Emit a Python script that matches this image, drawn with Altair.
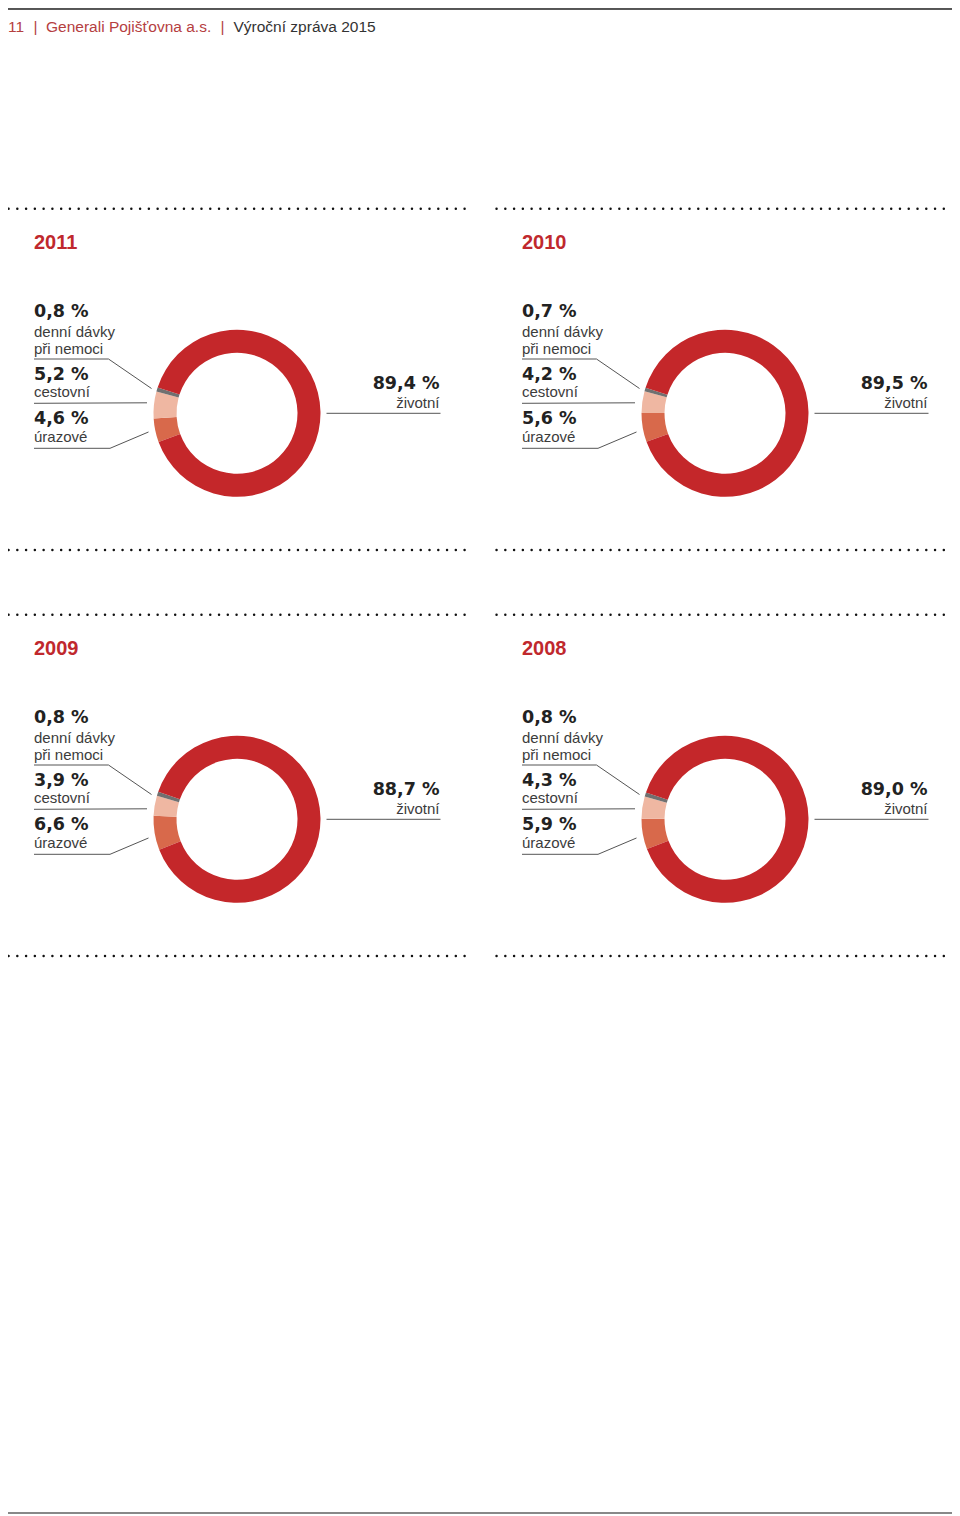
import math
import altair as alt
import pandas as pd

# ---------------- data ----------------
years = ["2011", "2010", "2009", "2008"]
categories = ["úrazové", "cestovní", "denní dávky\npři nemoci", "životní"]
urazove = [4.6, 5.6, 6.6, 5.9]
cestovni = [5.2, 4.2, 3.9, 4.3]
denni = [0.8, 0.7, 0.8, 0.8]
zivotni = [89.4, 89.5, 88.7, 89.0]
header_parts = ["11", "|", "Generali Pojišťovna a.s.", "|", "Výroční zpráva 2015"]

# ---------------- layout / style ----------------
W, H = 944, 1507
M = 8                      # page margin (page coords -> chart coords)
COL_DX = [0, 488]
ROW_DY = [0, 406]
CENTER_DEG = 269.0         # angle at which the small slices are centred
CX, CY = 237, 413.3        # donut centre of first panel (page coords)
R_OUT, R_IN = 83.5, 60.5
COLORS = ["#d8694b", "#efb7a2", "#707070", "#c4272a"]
RED_TXT = "#b5403f"
DARK = "#222222"
GREY_TXT = "#3c3c3c"
LINE = "#555555"

series = [urazove, cestovni, denni, zivotni]


def fmt(v):
    return f"{v:.1f}".replace(".", ",") + " %"


# label anchor positions per category (page coords, first panel)
PCT_Y = {0: 424.0, 1: 379.5, 2: 316.5}
NAME_Y = {0: 442.0, 1: 396.5, 2: 336.5}
LEFT_X = 34
RIGHT_X = 439.5
RIGHT_PCT_Y = 388.5
RIGHT_NAME_Y = 407.5
YEAR_Y = 248.5

LEADERS = [
    (34, 359, 108.5, 359), (108.5, 359, 151.5, 388.5),
    (34, 403.3, 147, 402.8),
    (34, 448.3, 110, 448.3), (110, 448.3, 148.5, 432),
    (326.5, 413.3, 440.5, 413.3),
]
DOT_Y = [208.7, 550.0]
DOT_X = (8.5, 467.0)

arc_rows, pct_rows, name_rows, year_rows, seg_rows, dot_rows = [], [], [], [], [], []
for i, yr in enumerate(years):
    ox = COL_DX[i % 2] - M
    oy = ROW_DY[i // 2] - M
    small = urazove[i] + cestovni[i] + denni[i]
    cum = CENTER_DEG / 3.6 - small / 2
    for k, cat in enumerate(categories):
        v = series[k][i]
        arc_rows.append(dict(year=yr, cat=cat, t0=cum, t1=cum + v,
                             cx=CX + ox, cy=CY + oy))
        cum += v
        if k < 3:
            pct_rows.append(dict(side="L", text=fmt(v), x=LEFT_X + ox, y=PCT_Y[k] + oy))
            name_rows.append(dict(side="L", text=cat, x=LEFT_X + ox, y=NAME_Y[k] + oy))
        else:
            pct_rows.append(dict(side="R", text=fmt(v), x=RIGHT_X + ox, y=RIGHT_PCT_Y + oy))
            name_rows.append(dict(side="R", text=cat, x=RIGHT_X + ox, y=RIGHT_NAME_Y + oy))
    year_rows.append(dict(text=yr, x=LEFT_X + ox, y=YEAR_Y + oy))
    for (x1, y1, x2, y2) in LEADERS:
        seg_rows.append(dict(x=x1 + ox, y=y1 + oy, x2=x2 + ox, y2=y2 + oy))
    for dy in DOT_Y:
        dot_rows.append(dict(x=DOT_X[0] + ox, x2=min(DOT_X[1] + ox, W), y=dy + oy))

arcs_df = pd.DataFrame(arc_rows)
pct_df = pd.DataFrame(pct_rows)
name_df = pd.DataFrame(name_rows)
year_df = pd.DataFrame(year_rows)
seg_df = pd.DataFrame(seg_rows)
dot_df = pd.DataFrame(dot_rows)

HEADER_X = [7, 33.5, 46, 220.5, 233.5]
header_df = pd.DataFrame(dict(text=header_parts,
                              x=[max(v - M, 0) for v in HEADER_X],
                              y=[32.3 - M] * len(header_parts),
                              red=[True, True, True, True, False]))

px = lambda f: alt.X(f"{f}:Q", scale=None, axis=None)
py = lambda f: alt.Y(f"{f}:Q", scale=None, axis=None)

arcs = alt.Chart(arcs_df).mark_arc(outerRadius=R_OUT, innerRadius=R_IN).encode(
    x=px("cx"), y=py("cy"),
    theta=alt.Theta("t0:Q", scale=alt.Scale(domain=[0, 100], range=[0, 2 * math.pi])),
    theta2=alt.Theta2("t1"),
    color=alt.Color("cat:N", scale=alt.Scale(domain=categories, range=COLORS), legend=None),
)

pct_l = alt.Chart(pct_df).transform_filter("datum.side == 'L'").mark_text(
    font="DejaVu Sans", fontWeight="bold", fontSize=17.5, align="left",
    baseline="alphabetic", color=DARK).encode(x=px("x"), y=py("y"), text="text:N")
pct_r = alt.Chart(pct_df).transform_filter("datum.side == 'R'").mark_text(
    font="DejaVu Sans", fontWeight="bold", fontSize=17.5, align="right",
    baseline="alphabetic", color=DARK).encode(x=px("x"), y=py("y"), text="text:N")
name_l = alt.Chart(name_df).transform_filter("datum.side == 'L'").mark_text(
    font="Liberation Sans", fontSize=15, align="left", baseline="alphabetic",
    lineBreak="\n", lineHeight=17, color=GREY_TXT).encode(x=px("x"), y=py("y"), text="text:N")
name_r = alt.Chart(name_df).transform_filter("datum.side == 'R'").mark_text(
    font="Liberation Sans", fontSize=15, align="right", baseline="alphabetic",
    color=GREY_TXT).encode(x=px("x"), y=py("y"), text="text:N")
year_t = alt.Chart(year_df).mark_text(
    font="Liberation Sans", fontWeight="bold", fontSize=20, align="left",
    baseline="alphabetic", color="#c0282d").encode(x=px("x"), y=py("y"), text="text:N")

leaders = alt.Chart(seg_df).mark_rule(color=LINE, strokeWidth=1).encode(
    x=px("x"), y=py("y"), x2="x2:Q", y2="y2:Q")
dots = alt.Chart(dot_df).mark_rule(color="#111111", strokeWidth=2.4,
                                   strokeDash=[0.1, 8.67], strokeCap="round").encode(
    x=px("x"), x2="x2:Q", y=py("y"))

head_rule = alt.Chart(header_df).mark_rule(color="#555555", strokeWidth=1.5).encode(
    x=alt.value(0), x2=alt.value(W), y=alt.value(0.8))
foot_rule = alt.Chart(header_df).mark_rule(color="#888888", strokeWidth=2).encode(
    x=alt.value(0), x2=alt.value(W), y=alt.value(H - 2))
head_red = alt.Chart(header_df).transform_filter("datum.red").mark_text(
    font="Liberation Sans", fontSize=15.5, align="left", baseline="alphabetic",
    color=RED_TXT).encode(x=px("x"), y=py("y"), text="text:N")
head_dark = alt.Chart(header_df).transform_filter("!datum.red").mark_text(
    font="Liberation Sans", fontSize=15.5, align="left", baseline="alphabetic",
    color="#333333").encode(x=px("x"), y=py("y"), text="text:N")

chart = alt.layer(
    head_rule, foot_rule, head_red, head_dark, dots, leaders, arcs,
    pct_l, pct_r, name_l, name_r, year_t,
).properties(
    width=W, height=H, autosize=alt.AutoSizeParams(type="none"), padding=0,
    background="white",
).configure_view(stroke=None)

chart.save("out.html", embed_options={"renderer": "svg", "actions": False})
